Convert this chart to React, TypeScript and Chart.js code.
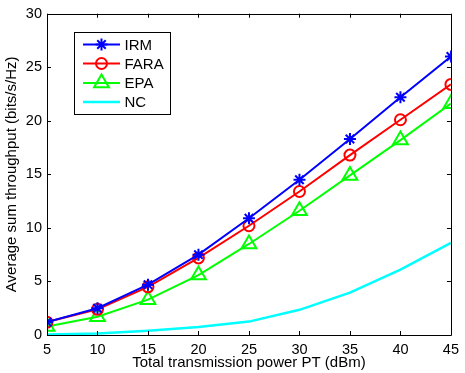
import React, { useEffect, useRef } from "react";
import { Chart, registerables } from "chart.js";

Chart.register(...registerables);

const powers = [5, 10, 15, 20, 25, 30, 35, 40, 45];
const irm = [1.2, 2.5, 4.7, 7.5, 10.9, 14.5, 18.3, 22.2, 26.0];
const fara = [1.2, 2.4, 4.5, 7.2, 10.2, 13.4, 16.8, 20.1, 23.4];
const epa = [0.8, 1.7, 3.3, 5.6, 8.5, 11.6, 14.9, 18.2, 21.6];
const nc = [0.05, 0.15, 0.4, 0.75, 1.25, 2.35, 3.95, 6.1, 8.6];
const seriesNames = ["IRM", "FARA", "EPA", "NC"];
const xTicks = [5, 10, 15, 20, 25, 30, 35, 40, 45];
const yTicks = [0, 5, 10, 15, 20, 25, 30];

const FONT = "'Liberation Sans', Arial, sans-serif";

function drawMarker(ctx: CanvasRenderingContext2D, style: string, x: number, y: number, r: number, color: string, lw: number) {
  ctx.save();
  ctx.strokeStyle = color;
  ctx.lineWidth = lw;
  ctx.beginPath();
  if (style === "star") {
    for (let i = 0; i < 4; i++) {
      const a = (i * Math.PI) / 4;
      ctx.moveTo(x - Math.cos(a) * r, y - Math.sin(a) * r);
      ctx.lineTo(x + Math.cos(a) * r, y + Math.sin(a) * r);
    }
  } else if (style === "circle") {
    ctx.arc(x, y, r, 0, Math.PI * 2);
  } else if (style === "triangle") {
    let rad = 0;
    ctx.moveTo(x + Math.sin(rad) * r, y - Math.cos(rad) * r);
    rad += (2 * Math.PI) / 3;
    ctx.lineTo(x + Math.sin(rad) * r, y - Math.cos(rad) * r);
    rad += (2 * Math.PI) / 3;
    ctx.lineTo(x + Math.sin(rad) * r, y - Math.cos(rad) * r);
    ctx.closePath();
  }
  ctx.stroke();
  ctx.restore();
}

const framePlugin = {
  id: "frame",
  afterDraw(chart: any) {
    const ctx: CanvasRenderingContext2D = chart.ctx;
    const { left, right, top, bottom } = chart.chartArea;
    const xs = chart.scales.x;
    const ys = chart.scales.y;
    ctx.save();
    ctx.strokeStyle = "#000";
    ctx.lineWidth = 1;
    ctx.beginPath();
    ctx.rect(Math.round(left) + 0.5, Math.round(top) + 0.5, Math.round(right - left), Math.round(bottom - top));
    ctx.stroke();
    const tl = 4;
    ctx.beginPath();
    xTicks.forEach((v) => {
      const px = Math.round(xs.getPixelForValue(v)) + 0.5;
      ctx.moveTo(px, bottom);
      ctx.lineTo(px, bottom - tl);
      ctx.moveTo(px, top);
      ctx.lineTo(px, top + tl);
    });
    yTicks.forEach((v) => {
      const py = Math.round(ys.getPixelForValue(v)) + 0.5;
      ctx.moveTo(left, py);
      ctx.lineTo(left + tl, py);
      ctx.moveTo(right, py);
      ctx.lineTo(right - tl, py);
    });
    ctx.stroke();

    // legend
    const bx = 74.5, by = 32.5, bw = 96, bh = 82;
    ctx.fillStyle = "#fff";
    ctx.fillRect(bx, by, bw, bh);
    ctx.strokeRect(bx, by, bw, bh);
    const rows = [44.5, 63.5, 83, 102];
    chart.data.datasets.forEach((ds: any, i: number) => {
      const y = rows[i];
      ctx.strokeStyle = ds.borderColor;
      ctx.lineWidth = ds.borderWidth;
      ctx.beginPath();
      ctx.moveTo(83, y);
      ctx.lineTo(120, y);
      ctx.stroke();
      if (ds.pointRadius > 0) {
        drawMarker(ctx, ds.pointStyle, 101.5, y, ds.pointRadius, ds.borderColor, ds.pointBorderWidth);
      }
      ctx.fillStyle = "#000";
      ctx.font = `15px ${FONT}`;
      ctx.textBaseline = "middle";
      ctx.textAlign = "left";
      ctx.fillText(seriesNames[i], 124.5, y + 1);
    });
    ctx.restore();
  },
};

export default function App() {
  const ref = useRef<HTMLCanvasElement>(null);
  useEffect(() => {
    document.body.style.margin = "0";
    const toPts = (arr: number[]) => arr.map((v, i) => ({ x: powers[i], y: v }));
    const chart = new Chart(ref.current!, {
      type: "line",
      data: {
        datasets: [
          { label: seriesNames[0], data: toPts(irm), borderColor: "#0000ff", backgroundColor: "transparent", borderWidth: 2, pointStyle: "star", pointRadius: 6, pointBorderWidth: 2, pointBackgroundColor: "transparent" },
          { label: seriesNames[1], data: toPts(fara), borderColor: "#ff0000", backgroundColor: "transparent", borderWidth: 2, pointStyle: "circle", pointRadius: 5.5, pointBorderWidth: 2, pointBackgroundColor: "transparent" },
          { label: seriesNames[2], data: toPts(epa), borderColor: "#00ff00", backgroundColor: "transparent", borderWidth: 2, pointStyle: "triangle", pointRadius: 8.5, pointBorderWidth: 2, pointBackgroundColor: "transparent" },
          { label: seriesNames[3], data: toPts(nc), borderColor: "#00ffff", backgroundColor: "transparent", borderWidth: 2.5, pointRadius: 0, pointBorderWidth: 0 },
        ] as any,
      },
      options: {
        animation: false,
        responsive: false,
        maintainAspectRatio: false,
        layout: { padding: { top: 13, right: 9, left: 0, bottom: 0 } },
        plugins: { legend: { display: false }, tooltip: { enabled: false } },
        scales: {
          x: {
            type: "linear",
            min: 5,
            max: 45,
            afterFit: (s: any) => { s.height = 38; },
            afterBuildTicks: (s: any) => { s.ticks = xTicks.map((v) => ({ value: v })); },
            grid: { display: false, drawTicks: false },
            border: { display: false },
            ticks: { padding: 6, color: "#000", font: { family: FONT, size: 14.5 }, maxRotation: 0, autoSkip: false },
            title: { display: true, text: "Total transmission power PT (dBm)", color: "#000", font: { family: FONT, size: 15 }, padding: { top: 0, bottom: 1 } },
          },
          y: {
            type: "linear",
            min: 0,
            max: 30,
            afterFit: (s: any) => { s.width = 47; },
            afterBuildTicks: (s: any) => { s.ticks = yTicks.map((v) => ({ value: v })); },
            grid: { display: false, drawTicks: false },
            border: { display: false },
            ticks: { padding: 5, color: "#000", font: { family: FONT, size: 14.5 }, autoSkip: false },
            title: { display: true, text: "Average sum throughput (bits/s/Hz)", color: "#000", font: { family: FONT, size: 15 }, padding: { top: 3, bottom: 0 } },
          },
        },
      } as any,
      plugins: [framePlugin],
    });
    return () => chart.destroy();
  }, []);
  return <canvas ref={ref} width={465} height={373} style={{ display: "block" }} />;
}
